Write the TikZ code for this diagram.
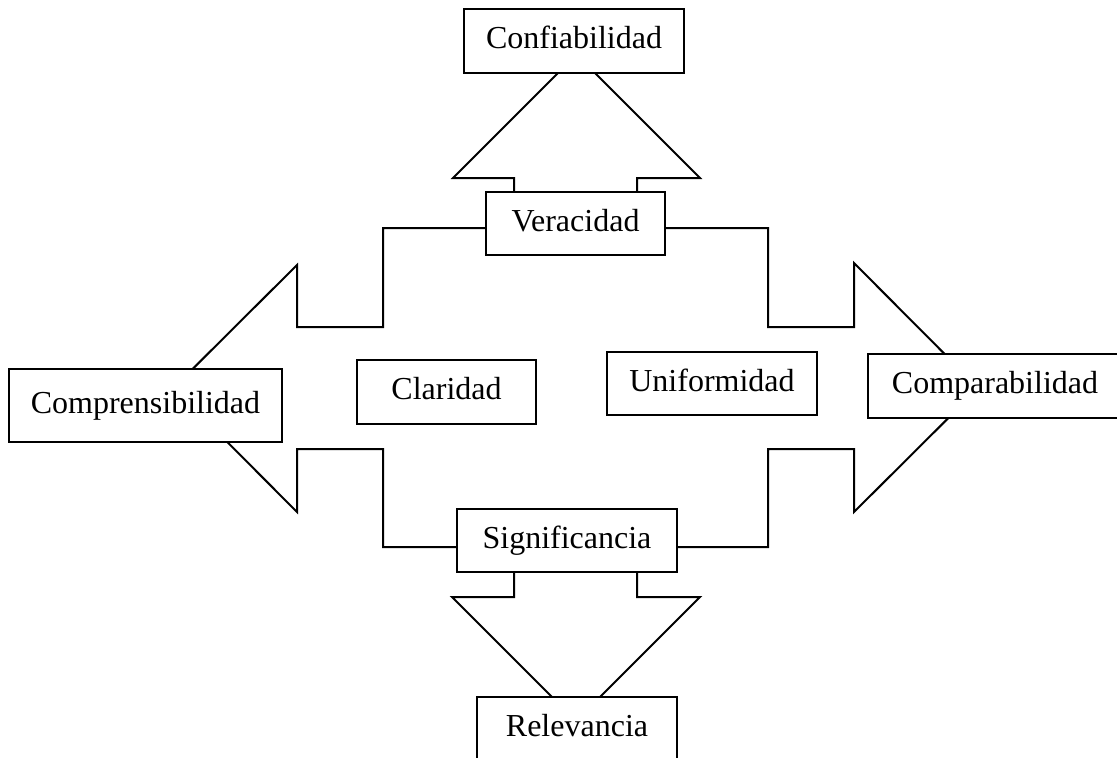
\documentclass[tikz,border=0pt]{standalone}
\usepackage{fontspec}
\setmainfont{Liberation Serif}
\usetikzlibrary{positioning}

\tikzset{
	caja/.style={draw, fill=white, line width=1.1pt, inner sep=0pt,
		minimum height=63pt, text height=22pt, text depth=7pt,
		font=\fontsize{32}{38}\selectfont},
	flecha/.style={draw, fill=white, line width=2pt, line join=miter}
}

\begin{document}
\begin{tikzpicture}[x=1pt,y=-1pt]
	\useasboundingbox (0,0) rectangle (1117,758);
	\clip (0,0) rectangle (1117,758);
	% flechas
	\draw [flecha] (173.5,388)--(297,265)--(297,327)--(383,327)--(383,228)--(768,228)--(768,327)--(854,327)--(854,263)--(978.5,388)--(854,512)--(854,449)--(768,449)--(768,547)--(383,547)--(383,449)--(297,449)--(297,512)--cycle;
	\draw [flecha] (514,200)--(514,178)--(453,178)--(576.5,54.5)--(700,178)--(637,178)--(637,200)--cycle;
	\draw [flecha] (514,565)--(514,597)--(452,597)--(576,721)--(700,597)--(637,597)--(637,565)--cycle;
	% cajas
	\node[caja, minimum width=220pt, minimum height=64pt] (C) at (574,41) {Confiabilidad};
	\node[caja, minimum width=179pt] (V) at (575.5,223.5) {Veracidad};
	\node[caja, minimum width=273pt, minimum height=73pt] (A1) at (145.5,405.5) {Comprensibilidad};
	\node[caja, minimum width=179pt, minimum height=64pt] (A2) at (446.5,392) {Claridad};
	\node[caja, minimum width=210pt] (B2) at (712,383.5) {Uniformidad};
	\node[caja, minimum width=254pt, minimum height=64pt] (B1) at (995,386) {Comparabilidad};
	\node[caja, minimum width=220pt] (S) at (567,540.5) {Significancia};
	\node[caja, minimum width=200pt] (R) at (577,728.5) {Relevancia};
\end{tikzpicture}
\end{document}
